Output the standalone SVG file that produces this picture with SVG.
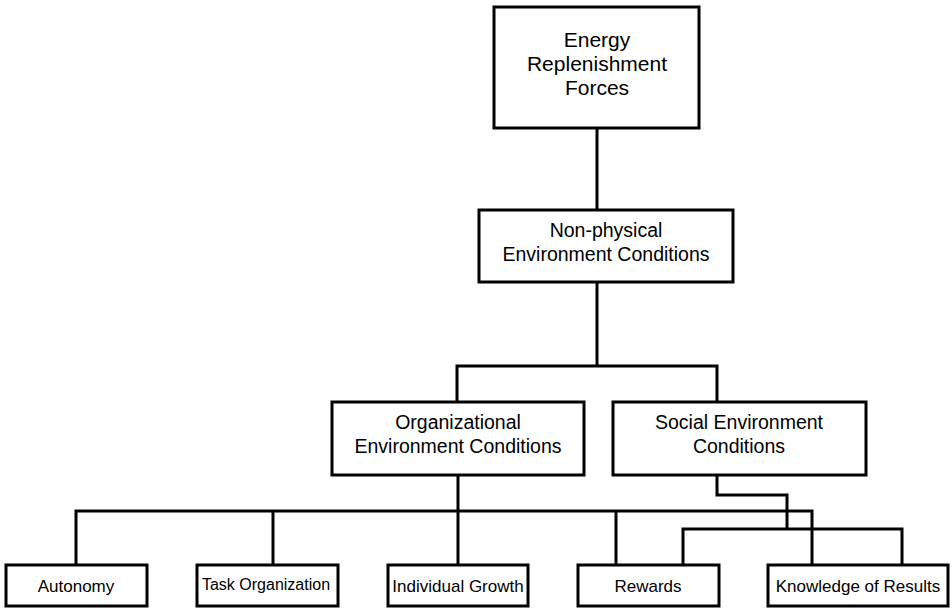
<svg xmlns="http://www.w3.org/2000/svg" width="952" height="608" viewBox="0 0 952 608">
  <style>
    .box rect { fill: #ffffff; stroke: #000000; stroke-width: 3; }
    .box text { font-family: "Liberation Sans", Arial, sans-serif; fill: #000000; text-anchor: middle; }
    .t1 { font-size: 21px; }
    .t2 { font-size: 19.5px; }
    .t3 { font-size: 17px; }
    .t3s { font-size: 16px; }
    #connectors path { fill: none; stroke: #000000; stroke-width: 3; stroke-linejoin: miter; stroke-linecap: butt; }
  </style>
  <rect width="952" height="608" fill="#ffffff"/>

  <g id="connectors">
    <!-- top to middle -->
    <path d="M597 128 V210"/>
    <!-- middle to level 3 split -->
    <path d="M597 282 V366"/>
    <path d="M457 402 V366 H717 V402"/>
    <!-- organizational branch -->
    <path d="M458 475 V565"/>
    <path d="M76 565 V511 H812 V565"/>
    <path d="M273 511 V565"/>
    <path d="M616 511 V565"/>
    <!-- social branch -->
    <path d="M717 475 V495 H787 V529"/>
    <path d="M683 565 V529 H902 V565"/>
  </g>

  <g id="energy-replenishment" class="box">
    <rect x="494" y="7" width="205" height="121"/>
    <text class="t1" x="597" y="47">Energy</text>
    <text class="t1" x="597" y="71">Replenishment</text>
    <text class="t1" x="597" y="95">Forces</text>
  </g>

  <g id="non-physical" class="box">
    <rect x="479" y="210" width="254" height="72"/>
    <text class="t2" x="606" y="237">Non-physical</text>
    <text class="t2" x="606" y="261">Environment Conditions</text>
  </g>

  <g id="organizational" class="box">
    <rect x="332" y="402" width="252" height="73"/>
    <text class="t2" x="458" y="429">Organizational</text>
    <text class="t2" x="458" y="453">Environment Conditions</text>
  </g>

  <g id="social" class="box">
    <rect x="613" y="402" width="253" height="73"/>
    <text class="t2" x="739" y="429">Social Environment</text>
    <text class="t2" x="739" y="453">Conditions</text>
  </g>

  <g id="autonomy" class="box">
    <rect x="6" y="565" width="141" height="41"/>
    <text class="t3" x="76" y="592">Autonomy</text>
  </g>

  <g id="task-organization" class="box">
    <rect x="197" y="565" width="141" height="41"/>
    <text class="t3s" x="266" y="590">Task Organization</text>
  </g>

  <g id="individual-growth" class="box">
    <rect x="388" y="565" width="140" height="41"/>
    <text class="t3" x="458" y="592">Individual Growth</text>
  </g>

  <g id="rewards" class="box">
    <rect x="578" y="565" width="141" height="41"/>
    <text class="t3" x="648" y="592">Rewards</text>
  </g>

  <g id="knowledge-of-results" class="box">
    <rect x="768" y="565" width="180" height="41"/>
    <text class="t3" x="858" y="592">Knowledge of Results</text>
  </g>
</svg>
